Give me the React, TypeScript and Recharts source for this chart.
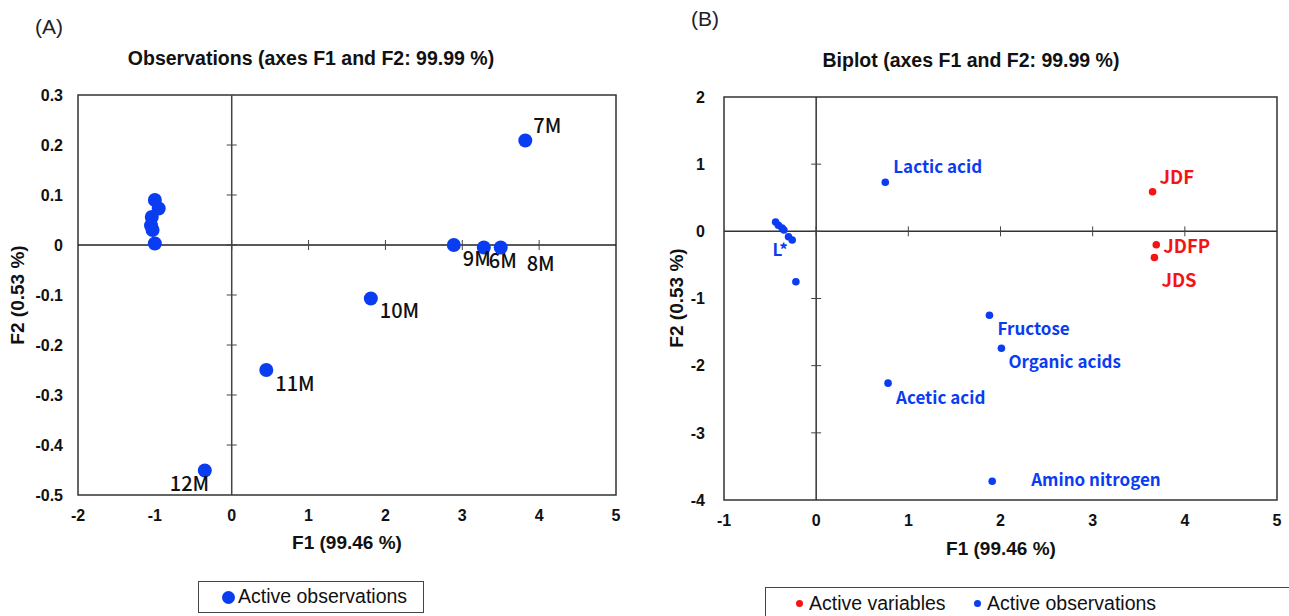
import React from 'react';
import { ScatterChart, Scatter, XAxis, YAxis, ReferenceLine, ReferenceArea } from 'recharts';

// ---- Panel A: observations ----
const obsLabels = ['', '', '', '', '', '', '6M', '7M', '8M', '9M', '10M', '11M', '12M'];
const obsF1 = [-1.0, -0.95, -1.04, -1.05, -1.03, -1.0, 3.28, 3.82, 3.5, 2.89, 1.81, 0.45, -0.35];
const obsF2 = [0.09, 0.073, 0.056, 0.039, 0.03, 0.003, -0.005, 0.209, -0.005, 0.0, -0.107, -0.25, -0.451];

// ---- Panel B: biplot ----
const varLabels = ['JDF', 'JDFP', 'JDS'];
const varF1 = [3.65, 3.69, 3.67];
const varF2 = [0.59, -0.2, -0.39];

const bObsLabels = ['Lactic acid', 'Fructose', 'Organic acids', 'Acetic acid', 'Amino nitrogen', '', '', '', '', '', 'L*', ''];
const bObsF1 = [0.75, 1.88, 2.01, 0.78, 1.91, -0.22, -0.44, -0.41, -0.37, -0.35, -0.3, -0.26];
const bObsF2 = [0.73, -1.25, -1.74, -2.26, -3.72, -0.75, 0.14, 0.09, 0.05, 0.02, -0.08, -0.13];

const aXTicks = [-2, -1, 0, 1, 2, 3, 4, 5];
const aYTicks = [-0.5, -0.4, -0.3, -0.2, -0.1, 0, 0.1, 0.2, 0.3];
const bXTicks = [-1, 0, 1, 2, 3, 4, 5];
const bYTicks = [-4, -3, -2, -1, 0, 1, 2];

const titleA = 'Observations (axes F1 and F2: 99.99 %)';
const titleB = 'Biplot (axes F1 and F2: 99.99 %)';
const xTitle = 'F1 (99.46 %)';
const yTitle = 'F2 (0.53 %)';

// label placement (pixel offsets from the point)
const labelOffsets: Record<string, [number, number]> = {
  '7M': [8, -16], '9M': [9, 12], '6M': [5, 12], '8M': [26, 15], '10M': [9, 11], '11M': [9, 12], '12M': [-35, 12],
  'Lactic acid': [8, -17], 'JDF': [7, -16], 'JDFP': [7, 0], 'JDS': [7, 21], 'Fructose': [8, 12],
  'Organic acids': [7, 12], 'Acetic acid': [8, 13], 'Amino nitrogen': [39, -3], 'L*': [-16, 12],
};

const BLUE = '#0a3cf2';
const RED = '#f41414';
const LABEL_FONT = '"Noto Sans CJK KR", "Noto Sans", sans-serif';
const ARIAL = '"Liberation Sans", Arial, sans-serif';

const zip = (names: string[], xs: number[], ys: number[]) => names.map((name, i) => ({ name, x: xs[i], y: ys[i] }));

const aData = zip(obsLabels, obsF1, obsF2);
const bVarData = zip(varLabels, varF1, varF2);
const bObsData = zip(bObsLabels, bObsF1, bObsF2);

const makeShape = (r: number, fill: string, textColor: string, fontSize: number, fontWeight: number) => (props: any) => {
  const { cx, cy, payload } = props;
  const off = labelOffsets[payload.name];
  return (
    <g>
      <circle cx={cx} cy={cy} r={r} fill={fill} />
      {payload.name && off ? (
        <text x={cx + off[0]} y={cy + off[1]} dominantBaseline="central" fill={textColor}
          style={{ fontFamily: LABEL_FONT, fontSize, fontWeight }}>{payload.name}</text>
      ) : null}
    </g>
  );
};

const tickStyle = { fontFamily: ARIAL, fontSize: 16, fontWeight: 700, fill: '#111' };

const abs = (left: number, top: number, extra: React.CSSProperties = {}): React.CSSProperties => ({
  position: 'absolute', left, top, transform: 'translate(-50%, -50%)', whiteSpace: 'nowrap', ...extra,
});

export default function App() {
  const aTickX = 0.065, aTickY = 0.01;
  const bTickX = 0.054, bTickY = 0.074;
  return (
    <div style={{ position: 'absolute', left: 0, top: 0, width: 1289, height: 616, overflow: 'hidden', background: '#fff', fontFamily: ARIAL }}>
      {/* Panel A */}
      <div style={{ position: 'absolute', left: 0, top: 0 }}>
        <ScatterChart width={640} height={616} margin={{ top: 95, right: 24, bottom: 91, left: 18 }}>
          <XAxis type="number" dataKey="x" domain={[-2, 5]} ticks={aXTicks} interval={0} axisLine={false} tickLine={false}
            tickSize={0} tickMargin={15} height={30} tick={tickStyle} allowDataOverflow />
          <YAxis type="number" dataKey="y" domain={[-0.5, 0.3]} ticks={aYTicks} interval={0} axisLine={false} tickLine={false}
            tickSize={0} tickMargin={15} width={60} tick={tickStyle} allowDataOverflow
            tickFormatter={(v: number) => String(Math.round(v * 10) / 10)} />
          <ReferenceArea x1={-2} x2={5} y1={-0.5} y2={0.3} fill="none" stroke="#333" strokeWidth={1.5} />
          <ReferenceLine x={0} stroke="#444" strokeWidth={1.5} />
          <ReferenceLine y={0} stroke="#222" strokeWidth={1.5} />
          {aXTicks.filter(t => t > -2 && t < 5).map(t => (
            <ReferenceLine key={'ax' + t} segment={[{ x: t, y: -aTickY }, { x: t, y: aTickY }]} stroke="#444" />
          ))}
          {aYTicks.filter(t => t > -0.5 && t < 0.3).map(t => (
            <ReferenceLine key={'ay' + t} segment={[{ x: -aTickX, y: t }, { x: aTickX, y: t }]} stroke="#444" />
          ))}
          <Scatter data={aData} isAnimationActive={false} shape={makeShape(7, BLUE, '#111', 20, 500)} />
        </ScatterChart>
      </div>
      {/* Panel B */}
      <div style={{ position: 'absolute', left: 640, top: 0 }}>
        <ScatterChart width={649} height={616} margin={{ top: 97, right: 12, bottom: 86, left: 24 }}>
          <XAxis type="number" dataKey="x" domain={[-1, 5]} ticks={bXTicks} interval={0} axisLine={false} tickLine={false}
            tickSize={0} tickMargin={15} height={30} tick={tickStyle} allowDataOverflow />
          <YAxis type="number" dataKey="y" domain={[-4, 2]} ticks={bYTicks} interval={0} axisLine={false} tickLine={false}
            tickSize={0} tickMargin={19} width={60} tick={tickStyle} allowDataOverflow />
          <ReferenceArea x1={-1} x2={5} y1={-4} y2={2} fill="none" stroke="#333" strokeWidth={1.5} />
          <ReferenceLine x={0} stroke="#333" strokeWidth={1.5} />
          <ReferenceLine y={0} stroke="#333" strokeWidth={1.5} />
          {bXTicks.filter(t => t > -1 && t < 5).map(t => (
            <ReferenceLine key={'bx' + t} segment={[{ x: t, y: -bTickY }, { x: t, y: bTickY }]} stroke="#444" />
          ))}
          {bYTicks.filter(t => t > -4 && t < 2).map(t => (
            <ReferenceLine key={'by' + t} segment={[{ x: -bTickX, y: t }, { x: bTickX, y: t }]} stroke="#444" />
          ))}
          <Scatter data={bObsData} isAnimationActive={false} shape={makeShape(3.8, BLUE, BLUE, 17, 700)} />
          <Scatter data={bVarData} isAnimationActive={false} shape={makeShape(3.8, RED, RED, 18.5, 700)} />
        </ScatterChart>
      </div>

      {/* texts */}
      <div style={abs(49, 27, { fontSize: 21, color: '#222' })}>(A)</div>
      <div style={abs(705, 19, { fontSize: 21, color: '#222' })}>(B)</div>
      <div style={abs(311, 58, { fontSize: 19.5, fontWeight: 700, color: '#111' })}>{titleA}</div>
      <div style={abs(971, 60, { fontSize: 19.5, fontWeight: 700, color: '#111' })}>{titleB}</div>
      <div style={abs(347, 543, { fontSize: 19, fontWeight: 700, color: '#111' })}>{xTitle}</div>
      <div style={abs(1001, 549, { fontSize: 19, fontWeight: 700, color: '#111' })}>{xTitle}</div>
      <div style={abs(18, 295, { fontSize: 19, fontWeight: 700, color: '#111', transform: 'translate(-50%, -50%) rotate(-90deg)' })}>{yTitle}</div>
      <div style={abs(677, 298, { fontSize: 19, fontWeight: 700, color: '#111', transform: 'translate(-50%, -50%) rotate(-90deg)' })}>{yTitle}</div>

      {/* legends */}
      <div style={{ position: 'absolute', left: 198, top: 581, width: 226, height: 32, border: '1px solid #444', boxSizing: 'border-box' }}>
        <span style={{ position: 'absolute', left: 23, top: 8.5, width: 13, height: 13, borderRadius: 7, background: BLUE }} />
        <span style={{ position: 'absolute', left: 39, top: 3, fontSize: 19.5, color: '#111' }}>Active observations</span>
      </div>
      <div style={{ position: 'absolute', left: 765, top: 587, width: 530, height: 40, border: '1px solid #444', boxSizing: 'border-box' }}>
        <span style={{ position: 'absolute', left: 30, top: 12, width: 7, height: 7, borderRadius: 4, background: RED }} />
        <span style={{ position: 'absolute', left: 43, top: 4, fontSize: 19.5, color: '#111' }}>Active variables</span>
        <span style={{ position: 'absolute', left: 208, top: 12, width: 7, height: 7, borderRadius: 4, background: BLUE }} />
        <span style={{ position: 'absolute', left: 221, top: 4, fontSize: 19.5, color: '#111' }}>Active observations</span>
      </div>
    </div>
  );
}
